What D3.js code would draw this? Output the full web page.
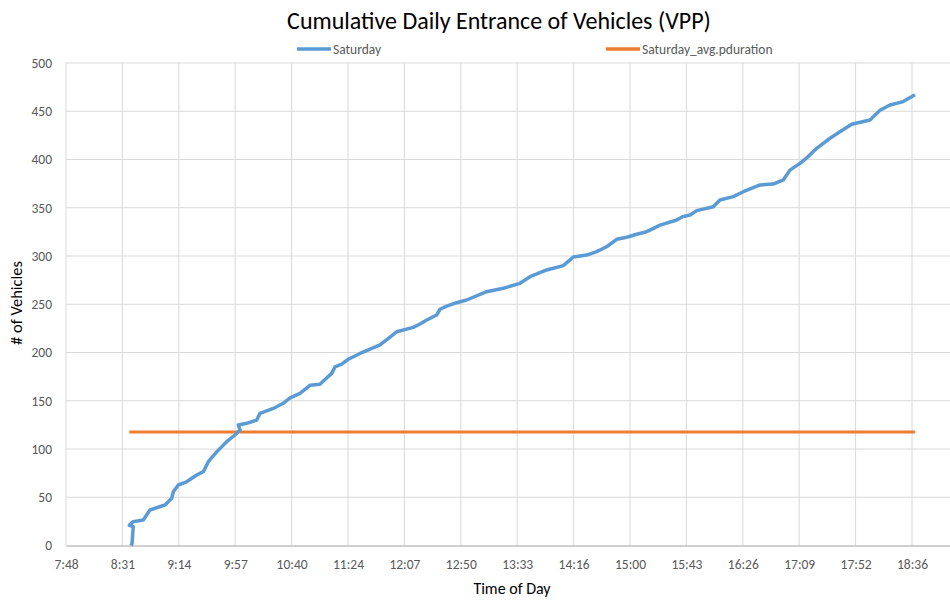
<!DOCTYPE html>
<html><head><meta charset="utf-8">
<script src="https://cdn.jsdelivr.net/npm/d3@7"></script>
<style>
body{margin:0;background:#fff;}
text{font-family:Carlito, Lato, "Liberation Sans", sans-serif;}
</style></head>
<body><svg id="c" width="950" height="601"></svg>
<script>
// time of day in minutes since midnight, cumulative vehicles
const satMinutes = [517.8,518.6,519.5,516.5,519.3,527.2,532.3,543.8,549,550.2,554,560.4,568.1,573.2,577,583.4,591.1,597.4,601.3,600,606.4,614.1,616.6,626.8,634.4,639.6,647.2,654.9,662.5,666.4,671.5,674,679.2,684.2,693.2,698.3,708.5,716.2,721.3,734,739.1,744.3,751.9,754.5,759.6,767.2,774.9,790.2,802.9,815.7,823.4,836.2,848.9,856.6,866.8,874.5,882.1,889.8,897.5,905.1,912.8,923,935.8,940.2,946,951.1,963.8,968.9,979.1,986.8,999.6,1009.7,1017.4,1022.5,1030.2,1036.5,1043,1053.2,1060.8,1069.8,1083.8,1091.5,1099.1,1109.3,1118.3];
const satValues = [0,2,19.5,21,24.7,26.4,36.8,42,49,55.7,62.7,66,73,76.5,86.8,97,107.6,114.5,119.7,124.9,126.6,130,137,142,147.4,153,157.7,166,167,172,178.4,185,188,193,199,202,207.8,216,221.5,226,229.5,233.7,238.9,244.8,248,251.6,254.4,263,266.5,271.7,278.5,285.5,290,299,301,304.5,309.6,317.3,319.4,322.5,325.2,332,337.3,340.7,342.5,347,351,358,361.5,366.6,373.6,374.6,378.8,389,396,403,411.6,422,428.8,436.5,441,451,456.5,460,467];
const avgMinutes = [516.5, 1118.3];
const avgValues = [117.6, 117.6];
const xTickMinutes = [468,511.2,554.4,597.6,640.8,684,727.2,770.4,813.6,856.8,900,943.2,986.4,1029.6,1072.8,1116];
const yTicks = [0,50,100,150,200,250,300,350,400,450,500];
const seriesNames = ["Saturday","Saturday_avg.pduration"];
const colors = ["#5b9bd5","#ed7d31"];

const svg = d3.select("#c");
const L = 66, R = 950, T = 63, B = 545.5;
const x = d3.scaleLinear().domain([468, 468 + (R - L) / (56.4 / 43.2)]).range([L, R]);
const y = d3.scaleLinear().domain([0, 500]).range([B, T]);

const fmt = m => { const h = Math.floor(m / 60), mm = Math.floor(m - h * 60 + 1e-6); return h + ":" + String(mm).padStart(2, "0"); };

// gridlines
svg.append("g").selectAll("line").data(yTicks.slice(1)).join("line")
  .attr("x1", L).attr("x2", R).attr("y1", d => y(d)).attr("y2", d => y(d))
  .attr("stroke", "#d9d9d9").attr("stroke-width", 1);
svg.append("g").selectAll("line").data(xTickMinutes).join("line")
  .attr("x1", d => x(d)).attr("x2", d => x(d)).attr("y1", T).attr("y2", B)
  .attr("stroke", "#d9d9d9").attr("stroke-width", 1);

// x axis
const xa = svg.append("g").attr("transform", `translate(0,${B})`)
  .call(d3.axisBottom(x).tickValues(xTickMinutes).tickFormat(fmt).tickSize(0).tickPadding(14));
xa.select(".domain").attr("stroke", "#bfbfbf").attr("stroke-width", 1.3);
xa.selectAll("text").attr("fill", "#595959").style("font-size", "13.5px");

// y axis
const ya = svg.append("g").attr("transform", `translate(${L},0)`)
  .call(d3.axisLeft(y).tickValues(yTicks).tickSize(0).tickPadding(14));
ya.select(".domain").remove();
ya.selectAll("text").attr("fill", "#595959").style("font-size", "13.5px");

// lines
const line = d3.line().x(d => x(d[0])).y(d => y(d[1]));
svg.append("path").datum(avgMinutes.map((m, i) => [m, avgValues[i]]))
  .attr("d", line).attr("fill", "none").attr("stroke", colors[1]).attr("stroke-width", 3);
svg.append("path").datum(satMinutes.map((m, i) => [m, satValues[i]]))
  .attr("d", line).attr("fill", "none").attr("stroke", colors[0]).attr("stroke-width", 3.5)
  .attr("stroke-linejoin", "round");

// title
svg.append("text").attr("x", 499).attr("y", 29).attr("text-anchor", "middle")
  .attr("fill", "#000").style("font-size", "24px").text("Cumulative Daily Entrance of Vehicles (VPP)");

// legend
const lg = [[297, 0], [606, 1]];
lg.forEach(([lx, i]) => {
  svg.append("line").attr("x1", lx).attr("x2", lx + 34).attr("y1", 49).attr("y2", 49)
    .attr("stroke", colors[i]).attr("stroke-width", 3.5);
  svg.append("text").attr("x", lx + 36).attr("y", 53.5).attr("fill", "#595959")
    .style("font-size", "13.5px").text(seriesNames[i]);
});

// axis titles
svg.append("text").attr("x", 512).attr("y", 594).attr("text-anchor", "middle")
  .attr("fill", "#000").style("font-size", "16px").text("Time of Day");
svg.append("text").attr("transform", "translate(22,303) rotate(-90)").attr("text-anchor", "middle")
  .attr("fill", "#000").style("font-size", "16.5px").text("# of Vehicles");
</script></body></html>
